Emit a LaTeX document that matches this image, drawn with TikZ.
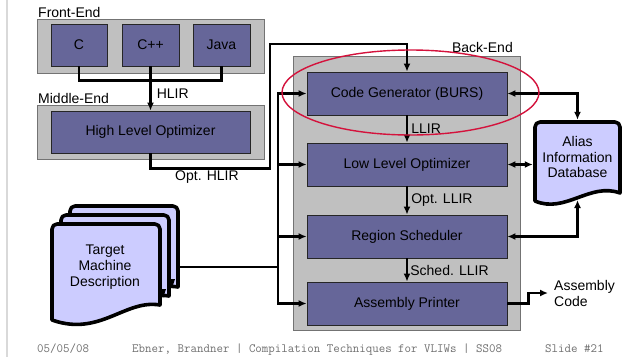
\documentclass[tikz,border=0pt]{standalone}
\usepackage{fontspec}
\setmainfont{Liberation Sans}
\usepackage{xcolor}
\usetikzlibrary{arrows.meta,calc}

\definecolor{stagefill}{HTML}{666699}
\definecolor{groupfill}{HTML}{C0C0C0}
\definecolor{docfill}{HTML}{CCCCFF}
\definecolor{bursred}{HTML}{D4123C}
\definecolor{footgray}{HTML}{707070}

\begin{document}
\begin{tikzpicture}[x=1pt, y=-1pt,
  group/.style={draw=black!55, fill=groupfill, line width=0.8pt, minimum width=227pt, minimum height=54pt},
  stage/.style={draw=black!85, fill=stagefill, line width=0.8pt, minimum height=43pt, font=\fontsize{14}{16}\selectfont},
  lbl/.style={font=\fontsize{14}{16}\selectfont, inner sep=1pt},
  wire/.style={line width=2.7pt},
  flow/.style={wire, -{Latex[length=8pt,width=7pt]}},
  biflow/.style={wire, {Latex[length=8pt,width=7pt]}-{Latex[length=8pt,width=7pt]}},
  docpage/.style={draw=black, fill=docfill, line width=3.6pt, line join=round},
  foot/.style={font=\fontsize{12.6}{14}\selectfont\ttfamily, text=footgray, inner sep=0pt}
]
\fill[white] (0,0) rectangle (627,357);
\useasboundingbox (0,0) rectangle (627,357);
\draw[black!15, line width=1.5pt] (7,0) -- (7,357);

% front end and middle end
\node[group] (frontend) at (150.5,46) {};
\node[lbl, anchor=base west, inner sep=0pt] (felabel) at (38,17) {Front-End};
\node[stage, minimum width=56pt, minimum height=42pt] (c) at (79,45) {C};
\node[stage, minimum width=57pt, minimum height=42pt] (cpp) at (150.5,45) {C++};
\node[stage, minimum width=57pt, minimum height=42pt] (java) at (221.5,45) {Java};

\node[group] (middleend) at (150.5,132) {};
\node[lbl, anchor=base west, inner sep=0pt] (melabel) at (38,103) {Middle-End};
\node[stage, minimum width=199pt, minimum height=42pt] (hlo) at (150.5,132) {High Level Optimizer};

% back end
\node[group, minimum height=274pt] (backend) at (406.5,193) {};
\node[lbl, anchor=base east, inner sep=0pt] (belabel) at (513,52) {Back-End};
\node[stage, minimum width=200pt] (cg) at (407,93.5) {Code Generator (BURS)};
\node[stage, minimum width=200pt] (llo) at (407,164.5) {Low Level Optimizer};
\node[stage, minimum width=200pt] (rs) at (407,236.5) {Region Scheduler};
\node[stage, minimum width=200pt] (ap) at (407,303.5) {Assembly Printer};

% alias database (document shape)
\draw[docpage, rounded corners=5pt] (535,201) -- (535,122) -- (620,122) -- (620,180)
  [sharp corners] -- (620,193) .. controls (590,182) and (565,214) .. (535,201) -- cycle;
\node[lbl, align=center, minimum width=89pt, minimum height=74pt, inner sep=0pt,
  font=\fontsize{14}{15.5}\selectfont] (db) at (577.5,157) {Alias\\Information\\Database};
\coordinate (dbfoot) at (577.5,200);

% target machine description (stacked pages)
\foreach \d in {18,9,0} {
  \begin{scope}[shift={(\d,-\d)}]
    \draw[docpage, rounded corners=5pt] (52,320) -- (52,224) -- (160,224) -- (160,280)
      [sharp corners] -- (160,305) .. controls (125,299) and (100,337) .. (52,320) -- cycle;
  \end{scope}
}
\fill (169,279) -- (175,279) -- (172,288) -- cycle;
\fill (160,289) -- (166,289) -- (163,298) -- cycle;
\node[lbl, align=center, font=\fontsize{14}{16}\selectfont] (tmd) at (105,267) {Target\\Machine\\Description};
\coordinate (tmdout) at (178,267);
\coordinate (tbus) at (278,267);
\coordinate (hlbend) at (270,44);

% intermediate representations
\draw[wire] (c.south) -- ++(0,14) -| (java.south);
\draw[flow] (cpp.south) -- node[lbl, right, pos=0.62, xshift=4pt] (hlir) {HLIR} (hlo.north);
\draw[flow] (hlo.south) -- ++(0,15) -| (hlbend) -| (cg.north);
\node[lbl, anchor=west] (opthlir) at (174,177) {Opt. HLIR};
\draw[flow] (cg) -- node[lbl, right, xshift=2pt] (llir) {LLIR} (llo);
\draw[flow] (llo) -- node[lbl, right, xshift=2pt] (optllir) {Opt. LLIR} (rs);
\draw[flow] (rs) -- node[lbl, right, xshift=1pt] (schedllir) {Sched. LLIR} (ap);

% machine description feeds every back-end phase
\draw[wire] (tmdout) -- (tbus);
\draw[flow] (ap.west -| tbus) |- (cg.west);
\draw[flow] (cg.west -| tbus) |- (ap.west);
\foreach \n in {llo,rs} \draw[flow] (\n.west -| tbus) -- (\n.west);

% alias queries
\draw[biflow] (cg.east) -| (db.north);
\draw[biflow] (llo.east) -- (llo.east -| db.west);
\draw[biflow] (rs.east) -| (dbfoot);

% output
\node[lbl, anchor=west, align=left, inner xsep=6pt, inner ysep=0pt,
  font=\fontsize{14}{16}\selectfont] (asmcode) at (548,293) {Assembly\\Code};
\draw[flow] (ap.east) -- ++(21,0) |- (asmcode.west);

% highlight on the code generator
\draw[bursred, line width=1.4pt] (410.5,92.5) ellipse [x radius=128.5, y radius=42.5];

% footer
\node[foot, anchor=base west] (fdate) at (37,352) {05/05/08};
\node[foot, anchor=base west] (ftitle) at (132,352) {Ebner, Brandner | Compilation Techniques for VLIWs | SS08};
\node[foot, anchor=base west] (fslide) at (545,352) {Slide \#21};
\end{tikzpicture}
\end{document}
